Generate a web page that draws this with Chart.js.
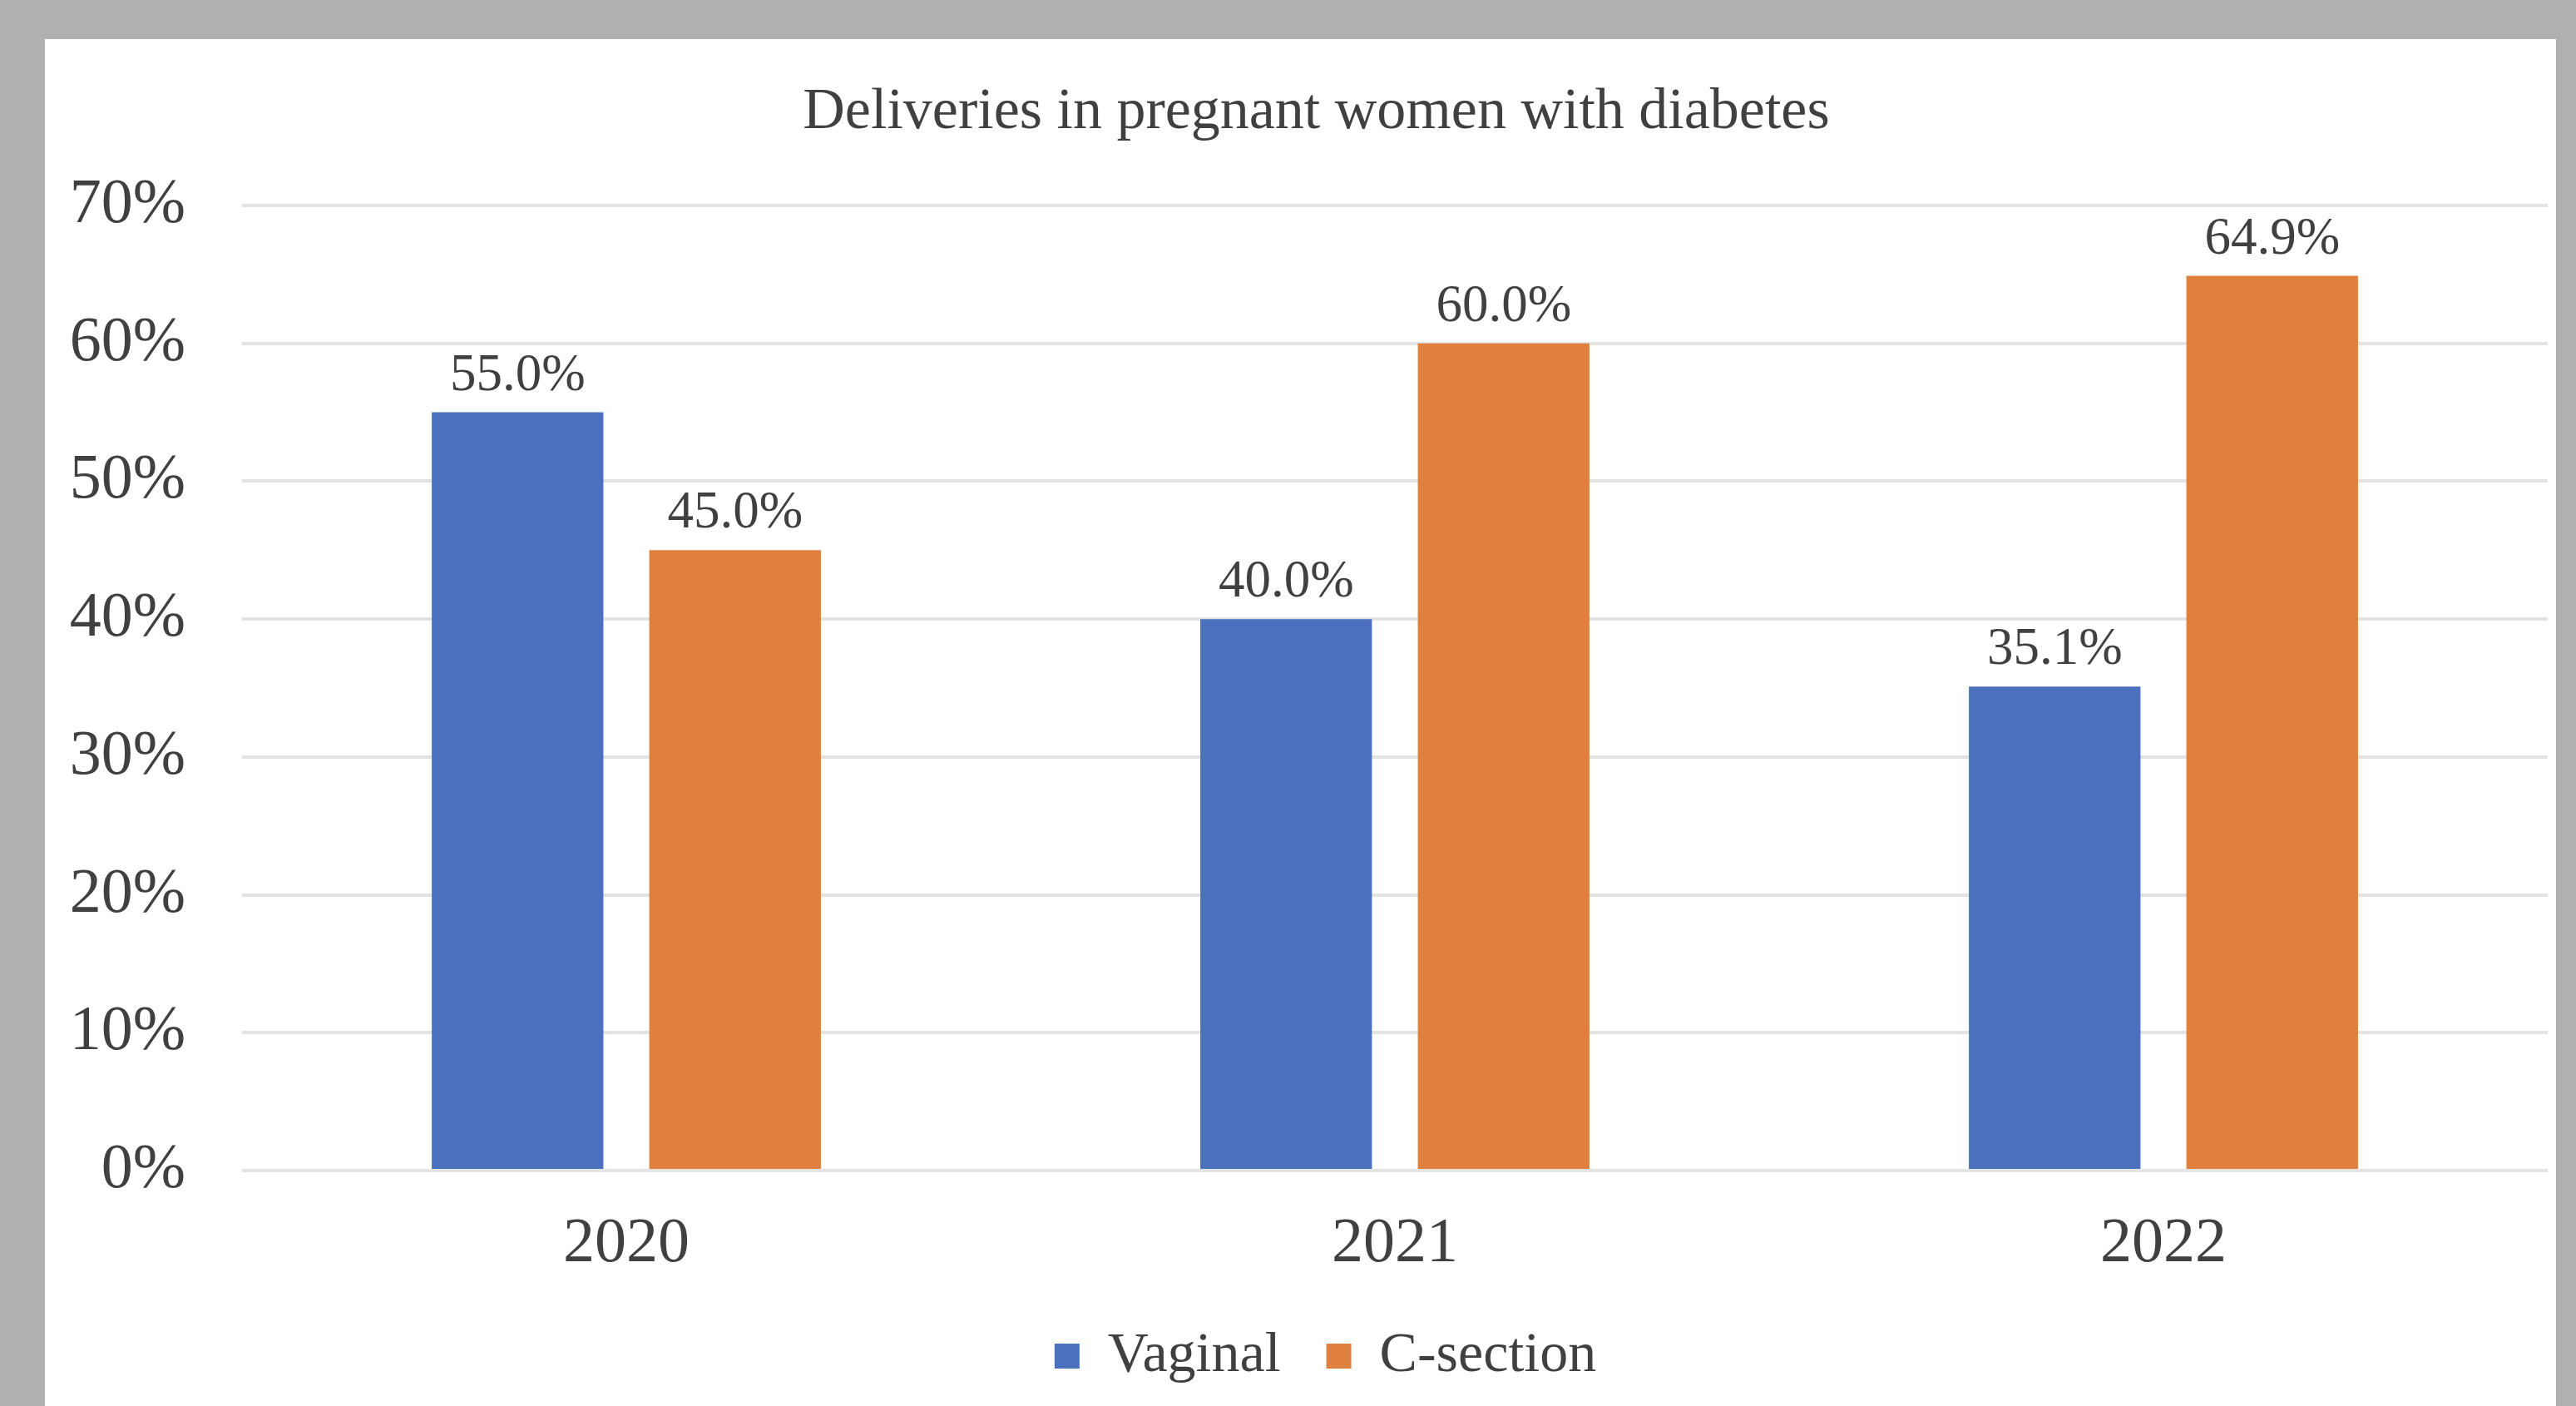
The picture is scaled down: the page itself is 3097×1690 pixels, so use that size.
<!DOCTYPE html>
<html>
<head>
<meta charset="utf-8">
<title>Deliveries in pregnant women with diabetes</title>
<script src="https://cdn.jsdelivr.net/npm/chart.js@4/dist/chart.umd.min.js"></script>
<style>
  html, body { margin: 0; padding: 0; background: #b0b0b0; }
  body { width: 3097px; height: 1690px; position: relative; overflow: hidden; }
  #panel {
    position: absolute; left: 54px; top: 47px;
    width: 3019px; height: 1643px; background: #ffffff;
  }
</style>
</head>
<body>
<div id="panel"><canvas id="deliveryChart"></canvas></div>
<script>
const years = ["2020", "2021", "2022"];
const vaginal = [55.0, 40.0, 35.1];
const cSection = [45.0, 60.0, 64.9];
const yTicks = [0, 10, 20, 30, 40, 50, 60, 70];

const serif = "'Liberation Serif', 'Times New Roman', serif";
const textColor = "#404040";

// percentage written above every bar
const barValueLabels = {
    id: "barValueLabels",
    afterDatasetsDraw(chart) {
        const ctx = chart.ctx;
        ctx.save();
        ctx.font = "63px " + serif;
        ctx.fillStyle = textColor;
        ctx.textAlign = "center";
        ctx.textBaseline = "alphabetic";
        chart.data.datasets.forEach((ds, i) => {
            chart.getDatasetMeta(i).data.forEach((bar, j) => {
                ctx.fillText(ds.data[j].toFixed(1) + "%", bar.x, bar.y - 27);
            });
        });
        ctx.restore();
    }
};

// title and legend sit a little right of the canvas centre
const centreNudge = {
    id: "centreNudge",
    afterLayout(chart) {
        chart.titleBlock.left += 24;
        chart.titleBlock.right += 24;
        chart.legend.left += 35;
        chart.legend.right += 35;
    }
};

const chart = new Chart(document.getElementById("deliveryChart"), {
    type: "bar",
    data: {
        labels: years,
        datasets: [
            {
                label: "Vaginal",
                data: vaginal,
                backgroundColor: "#4a70be"
            },
            {
                label: "C-section",
                data: cSection,
                backgroundColor: "#e0803e"
            }
        ]
    },
    options: {
        responsive: true,
        maintainAspectRatio: false,
        animation: false,
        categoryPercentage: 0.566,
        barPercentage: 0.789,
        layout: {
            padding: { top: 0, left: 0, right: 10, bottom: 16 }
        },
        scales: {
            x: {
                afterFit: (scale) => { scale.height = 134; },
                grid: { display: false, drawTicks: false },
                border: { display: false },
                ticks: {
                    color: textColor,
                    padding: 43,
                    font: { family: serif, size: 76 }
                }
            },
            y: {
                min: yTicks[0],
                max: yTicks[yTicks.length - 1],
                afterFit: (scale) => { scale.width = 237; },
                grid: { color: "#e3e3e3", lineWidth: 4, drawTicks: false },
                border: { display: false },
                ticks: {
                    stepSize: yTicks[1] - yTicks[0],
                    color: textColor,
                    padding: 68,
                    font: { family: serif, size: 76 },
                    callback: (value) => value + "%"
                }
            }
        },
        plugins: {
            title: {
                display: true,
                text: "Deliveries in pregnant women with diabetes",
                color: textColor,
                font: { family: serif, size: 70, weight: "normal" },
                padding: { top: 47, bottom: 69 }
            },
            legend: {
                position: "bottom",
                labels: {
                    color: textColor,
                    boxWidth: 30,
                    boxHeight: 30,
                    padding: 55,
                    font: { family: serif, size: 68 }
                }
            },
            tooltip: { enabled: false }
        }
    },
    plugins: [barValueLabels, centreNudge]
});
</script>
</body>
</html>
